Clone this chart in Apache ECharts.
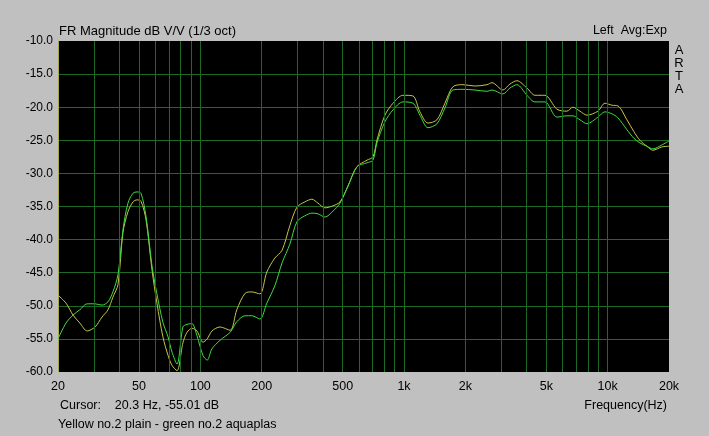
<!DOCTYPE html>
<html><head><meta charset="utf-8">
<script src="https://cdn.jsdelivr.net/npm/echarts@6/dist/echarts.min.js"></script>
<style>html,body{margin:0;padding:0;background:#c0c0c0;}#c{width:709px;height:436px;}</style>
</head><body><div id="c"></div>
<script>
const freqs = [20, 21.9, 23.7, 25.6, 27.8, 30.4, 32.9, 35.2, 37.2, 39.4, 41.7, 44.1, 46.7, 48.9, 51.1, 54.1, 57.9, 61.2, 65.5, 69.4, 72.6, 76.8, 82.1, 86, 91, 96.2, 103, 108, 114, 125, 140, 151, 166, 179, 196, 212, 232, 252, 275, 298, 326, 353, 378, 409, 448, 485, 531, 587, 658, 704, 736, 806, 883, 988, 1106, 1197, 1311, 1451, 1588, 1739, 1946, 2229, 2553, 2703, 3059, 3311, 3584, 4013, 4392, 4918, 5632, 6305, 6749, 7305, 7908, 8956, 9691, 10490, 11226, 12427, 13451, 14394, 15581, 16672, 18456, 20000];
const yellowPlain = [-48.4, -49.6, -51.4, -52.6, -53.8, -53.2, -51.7, -50.6, -48.7, -46.8, -38.9, -35.8, -34.3, -34.0, -34.2, -37.0, -44.6, -49.6, -54.7, -57.5, -59.0, -59.8, -55.6, -54.0, -53.4, -53.8, -55.5, -55.0, -53.8, -53.2, -53.7, -50.6, -48.1, -47.9, -48.2, -44.9, -42.8, -41.6, -37.9, -35.1, -34.3, -33.9, -34.5, -35.2, -34.9, -34.3, -31.9, -29.0, -28.0, -27.5, -25.0, -21.2, -19.4, -18.2, -18.3, -20.7, -22.4, -21.9, -19.4, -16.9, -16.6, -16.8, -16.6, -16.3, -17.4, -16.5, -16.0, -17.1, -18.2, -18.2, -20.3, -20.6, -20.0, -20.6, -21.2, -20.6, -19.4, -19.7, -19.8, -21.9, -23.7, -25.0, -25.9, -26.5, -26.0, -25.9];
const greenAquaplas = [-55.0, -52.6, -51.4, -50.6, -49.7, -49.7, -49.9, -49.4, -47.9, -45.3, -38.5, -34.5, -33.0, -32.8, -33.0, -36.5, -44.0, -48.2, -52.5, -54.7, -57.0, -58.8, -53.2, -52.8, -52.7, -54.5, -57.5, -58.2, -56.5, -55.2, -54.0, -52.4, -51.5, -51.5, -52.0, -49.6, -47.0, -43.5, -40.7, -37.3, -36.4, -36.0, -36.1, -36.6, -35.7, -34.5, -31.9, -29.0, -28.4, -28.0, -25.4, -22.2, -20.4, -19.2, -19.4, -21.2, -23.1, -22.5, -20.1, -17.4, -17.3, -17.4, -17.6, -17.4, -18.0, -17.1, -16.6, -18.2, -19.2, -19.2, -21.5, -21.3, -21.3, -21.9, -22.5, -21.5, -20.7, -21.0, -21.6, -23.4, -24.7, -25.4, -25.9, -26.3, -25.7, -25.1];
const xTickLabels = [20, 50, 100, 200, 500, 1000, 2000, 5000, 10000, 20000];
const gridFreqs = [30, 40, 50, 60, 70, 80, 90, 100, 200, 300, 400, 500, 600, 700, 800, 900, 1000, 2000, 3000, 4000, 5000, 6000, 7000, 8000, 9000, 10000];

const FONT = 'Liberation Sans';
const chart = echarts.init(document.getElementById('c'), null, {renderer: 'canvas'});
const gridColor = '#1d6a27';
const txt = (x, y, s, align, size) => ({type: 'text', x: x, y: y,
  style: {text: s, fill: '#000', font: (size || 12) + 'px "' + FONT + '"', textAlign: align || 'left', textVerticalAlign: 'middle'}});

chart.setOption({
  animation: false,
  backgroundColor: '#c0c0c0',
  grid: {left: 58, top: 41, width: 611, height: 331, show: true, backgroundColor: '#000', borderWidth: 0},
  xAxis: {
    type: 'log', logBase: 10, min: 20, max: 20000,
    axisLine: {show: false}, axisTick: {show: false}, splitLine: {show: false},
    axisLabel: {customValues: xTickLabels, color: '#000', fontFamily: FONT, fontSize: 12.5, margin: 8,
      formatter: v => v >= 1000 ? (v / 1000) + 'k' : String(v)}
  },
  yAxis: {
    type: 'value', min: -60, max: -10, interval: 5,
    axisLine: {show: true, lineStyle: {color: '#a8a848', width: 1}},
    axisTick: {show: false},
    splitLine: {show: true, showMinLine: false, showMaxLine: false, lineStyle: {color: gridColor, width: 1}},
    axisLabel: {color: '#000', fontFamily: FONT, fontSize: 12, margin: 5, formatter: v => v.toFixed(1)}
  },
  series: [
    {type: 'line', data: [], z: 1, silent: true,
      itemStyle: {color: gridColor},
      markLine: {silent: true, symbol: 'none', animation: false, label: {show: false},
        lineStyle: {color: gridColor, width: 1, type: 'solid', opacity: 1},
        itemStyle: {color: gridColor},
        emphasis: {disabled: true},
        data: gridFreqs.map(f => ({xAxis: f}))}},
    {name: 'Yellow no.2 plain', type: 'line', z: 3, showSymbol: false, smooth: 0.3,
      data: freqs.map((f, i) => [f, yellowPlain[i]]),
      lineStyle: {color: '#c4c448', width: 1}},
    {name: 'green no.2 aquaplas', type: 'line', z: 4, showSymbol: false, smooth: 0.3,
      data: freqs.map((f, i) => [f, greenAquaplas[i]]),
      lineStyle: {color: '#3ede3e', width: 1}}
  ],
  graphic: [
    txt(59, 31, 'FR Magnitude dB V/V (1/3 oct)', 'left', 13),
    txt(667, 31, 'Left  Avg:Exp', 'right', 12.5),
    txt(679, 50, 'A', 'center', 13),
    txt(679, 63, 'R', 'center', 13),
    txt(679, 76, 'T', 'center', 13),
    txt(679, 89, 'A', 'center', 13),
    txt(667, 406, 'Frequency(Hz)', 'right', 12.5),
    txt(60, 406, 'Cursor:    20.3 Hz, -55.01 dB', 'left', 12.5),
    txt(58, 425, 'Yellow no.2 plain - green no.2 aquaplas', 'left', 12.5)
  ]
});
</script></body></html>
